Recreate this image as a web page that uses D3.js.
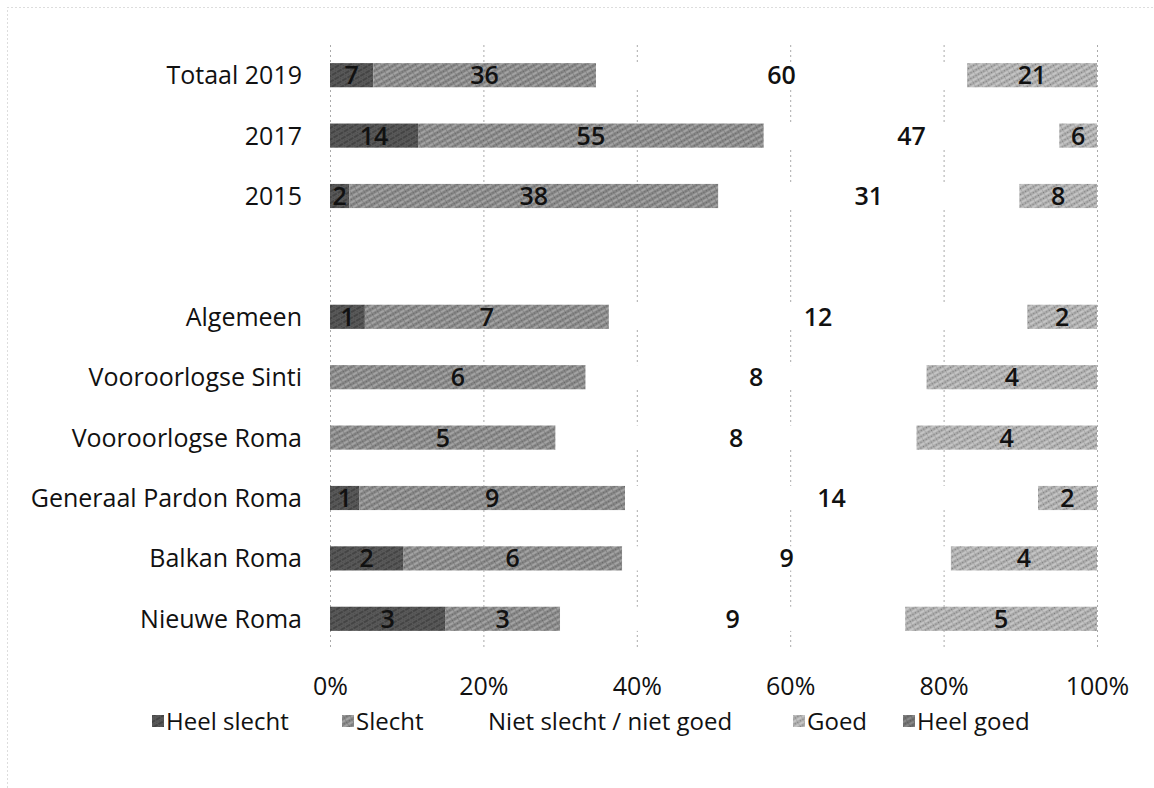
<!DOCTYPE html>
<html><head><meta charset="utf-8">
<script src="https://cdn.jsdelivr.net/npm/d3@7"></script>
<style>body{margin:0;background:#fff}svg{display:block}text{font-family:"Open Sans",Lato,sans-serif}</style>
</head><body><svg id="c" width="1154" height="788"></svg>
<script>
const categories = ["Totaal 2019","2017","2015","","Algemeen","Vooroorlogse Sinti","Vooroorlogse Roma","Generaal Pardon Roma","Balkan Roma","Nieuwe Roma"];
const seriesNames = ["Heel slecht","Slecht","Niet slecht / niet goed","Goed","Heel goed"];
const heelSlecht = [7,14,2,0,1,0,0,1,2,3];
const slecht     = [36,55,38,0,7,6,5,9,6,3];
const neutraal   = [60,47,31,0,12,8,8,14,9,9];
const goed       = [21,6,8,0,2,4,4,2,4,5];
const heelGoed   = [0,0,0,0,0,0,0,0,0,0];
const tickValues = [0,0.2,0.4,0.6,0.8,1];

const svg = d3.select("#c");
const defs = svg.append("defs");
const colors = ["#595959","#858585","#ffffff","#ababab","#707070"];
const lineCols = ["#2e2e2e","#c0c0c0","#ffffff","#dedede","#a0a0a0"];
colors.forEach((c,i)=>{
  const p = defs.append("pattern").attr("id","p"+i).attr("patternUnits","userSpaceOnUse")
    .attr("width",6).attr("height",5).attr("patternTransform","rotate(-30)");
  p.append("rect").attr("width",6).attr("height",5).attr("fill",c);
  if(i!==2){
    p.append("line").attr("x1",0).attr("y1",1).attr("x2",6).attr("y2",1)
      .attr("stroke",lineCols[i]).attr("stroke-width",1.2).attr("stroke-dasharray","3,1");
    p.append("line").attr("x1",0).attr("y1",3.5).attr("x2",6).attr("y2",3.5)
      .attr("stroke","#333").attr("stroke-width",0.8).attr("stroke-dasharray","1,2").attr("opacity",0.5);
  }
});

// border
svg.append("rect").attr("x",7.5).attr("y",7.5).attr("width",1160).attr("height",800)
  .attr("fill","none").attr("stroke","#bbb").attr("stroke-dasharray","1,3");

const x = d3.scaleLinear().domain([0,1]).range([330,1097]);
const y = d3.scaleBand().domain(categories.map((c,i)=>i)).range([45,649]).paddingInner(0.6).paddingOuter(0.3);

// grid
svg.append("g").selectAll("line").data(tickValues).join("line")
  .attr("x1",d=>x(d)+0.5).attr("x2",d=>x(d)+0.5).attr("y1",45).attr("y2",649)
  .attr("stroke","#aaa").attr("stroke-width",1).attr("stroke-dasharray","2,3");

const rows = categories.map((c,i)=>{
  const vals=[heelSlecht[i],slecht[i],neutraal[i],goed[i],heelGoed[i]];
  const tot=d3.sum(vals); let cum=0;
  return vals.map((v,k)=>{const s=tot?cum/tot:0; cum+=v; return {i,k,v,x0:s,x1:tot?cum/tot:0};});
});
const segs = rows.flat().filter(d=>d.v>0);
svg.append("g").selectAll("rect").data(segs).join("rect")
  .attr("x",d=>x(d.x0)).attr("width",d=>x(d.x1)-x(d.x0))
  .attr("y",d=>y(d.i)).attr("height",y.bandwidth())
  .attr("fill",d=>"url(#p"+d.k+")");
svg.append("g").selectAll("text").data(segs).join("text")
  .attr("x",d=>(x(d.x0)+x(d.x1))/2).attr("y",d=>y(d.i)+y.bandwidth()/2)
  .attr("dy","0.36em").attr("text-anchor","middle").attr("font-size",25).attr("font-weight",600).attr("fill","#111")
  .text(d=>d.v);

// category labels
svg.append("g").selectAll("text").data(categories).join("text")
  .attr("x",302).attr("y",(d,i)=>y(i)+y.bandwidth()/2).attr("dy","0.36em")
  .attr("text-anchor","end").attr("font-size",25).attr("fill","#111").text(d=>d);

// x axis
const ax = svg.append("g").attr("transform","translate(0,686)")
  .call(d3.axisBottom(x).tickValues(tickValues).tickFormat(d3.format(".0%")).tickSize(0));
ax.select(".domain").remove();
ax.selectAll("text").attr("font-size",25).attr("fill","#111").attr("dy","0.36em").attr("y",0)
  .style("font-family",'"Open Sans",sans-serif');

// legend
const legX = [152,342,476,793,903];
const lg = svg.append("g").selectAll("g").data(seriesNames).join("g")
  .attr("transform",(d,i)=>`translate(${legX[i]},721)`);
lg.append("rect").attr("x",0).attr("y",-6).attr("width",12).attr("height",12)
  .attr("fill",(d,i)=>"url(#p"+i+")");
lg.append("text").attr("x",(d,i)=>i===2?12:14).attr("y",0).attr("dy","0.36em")
  .attr("font-size",24).attr("fill","#111").text(d=>d);
</script></body></html>
